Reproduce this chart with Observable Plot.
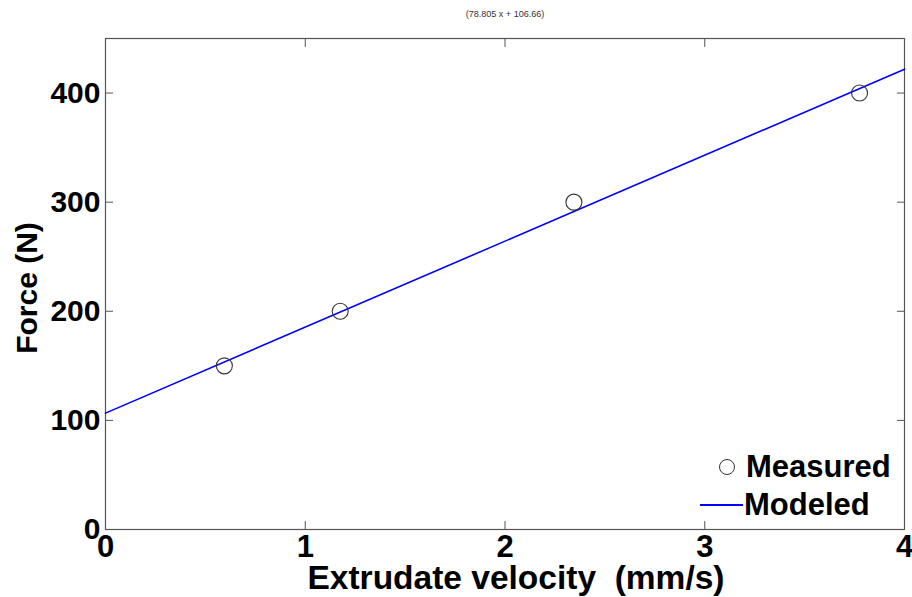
<!DOCTYPE html>
<html>
<head>
<meta charset="utf-8">
<script src="https://cdn.jsdelivr.net/npm/d3@7"></script>
<script src="https://cdn.jsdelivr.net/npm/@observablehq/plot@0.6"></script>
<style>
  html, body { margin: 0; padding: 0; background: #fff; }
  #wrap { position: relative; width: 912px; height: 597px; font-family: "Liberation Sans", Arial, sans-serif; }
  #legend { position: absolute; left: 690px; top: 448px; font-weight: bold; font-size: 31px; color: #000; }
  .row { position: relative; height: 38px; line-height: 38px; }
  .sym { position: absolute; }
  .lbl { position: absolute; white-space: nowrap; }
</style>
</head>
<body>
<div id="wrap"></div>
<script>
// Data
const velocity = [0.595, 1.175, 2.345, 3.775];   // mm/s (measured)
const force = [150, 200, 300, 400];              // N (measured)
const modelVelocity = [0, 4];                    // mm/s (modeled line ends)
const modelForce = [106.66, 421.88];             // N  (78.805 x + 106.66)
const xTicks = [0, 1, 2, 3, 4];
const yTicks = [0, 100, 200, 300, 400];
const titleText = "(78.805 x + 106.66)";
const xLabel = "Extrudate velocity \u00a0(mm/s)";
const yLabel = "Force (N)";
const seriesNames = ["Measured", "Modeled"];

const measured = velocity.map((v, i) => ({v, f: force[i]}));
const modeled = modelVelocity.map((v, i) => ({v, f: modelForce[i]}));

const font = "Liberation Sans, Arial, sans-serif";
const frameColor = "#555";
const intFmt = d3.format("d");

const chart = Plot.plot({
  width: 912,
  height: 597,
  marginLeft: 105,
  marginRight: 8,
  marginTop: 38,
  marginBottom: 68,
  style: {fontFamily: font, background: "#fff", color: "#000", overflow: "visible"},
  x: {domain: [0, 4]},
  y: {domain: [0, 450]},
  marks: [
    Plot.frame({stroke: frameColor, strokeWidth: 1.2}),
    // inward ticks on all four sides
    Plot.axisX({anchor: "bottom", ticks: xTicks, tickSize: -8, tickFormat: () => "", label: null, stroke: frameColor}),
    Plot.axisX({anchor: "top", ticks: xTicks, tickSize: -8, tickFormat: () => "", label: null, stroke: frameColor}),
    Plot.axisY({anchor: "left", ticks: yTicks, tickSize: -8, tickFormat: () => "", label: null, stroke: frameColor}),
    Plot.axisY({anchor: "right", ticks: yTicks, tickSize: -8, tickFormat: () => "", label: null, stroke: frameColor}),
    // tick labels
    Plot.axisX({anchor: "bottom", ticks: xTicks, tickFormat: intFmt, tickSize: 0, tickPadding: 5, label: null, fontSize: 31, fontWeight: "bold", fill: "#000"}),
    Plot.axisY({anchor: "left", ticks: yTicks, tickFormat: intFmt, tickSize: 0, tickPadding: 5, label: null, fontSize: 30, fontWeight: "bold", fill: "#000"}),
    // axis titles
    Plot.text([xLabel], {text: d => d, frameAnchor: "bottom", textAnchor: "middle", lineAnchor: "middle", dx: 11, dy: 49, fontSize: 33.5, fontWeight: "bold", fill: "#000"}),
    Plot.text([yLabel], {text: d => d, frameAnchor: "left", textAnchor: "middle", lineAnchor: "middle", rotate: -90, dx: -78, dy: 4, fontSize: 30, fontWeight: "bold", fill: "#000"}),
    Plot.text([titleText], {text: d => d, frameAnchor: "top", textAnchor: "middle", lineAnchor: "middle", dy: -24, fontSize: 9, fill: "#333"}),
    // data
    Plot.line(modeled, {x: "v", y: "f", stroke: "#0000ff", strokeWidth: 1.6}),
    Plot.dot(measured, {x: "v", y: "f", r: 8, stroke: "#333", strokeWidth: 1.1, fill: "none"})
  ]
});

const wrap = document.getElementById("wrap");
wrap.appendChild(chart);

// Legend (inside the axes, bottom-right)
const legend = document.createElement("div");
legend.id = "legend";
legend.innerHTML = `
  <div class="row"><span class="sym" style="left:29px;top:11px;width:14px;height:14px;border:1.2px solid #333;border-radius:50%;"></span><span class="lbl" style="left:56px;">${seriesNames[0]}</span></div>
  <div class="row"><span class="sym" style="left:10px;top:18px;width:43px;height:2px;background:#0000ff;"></span><span class="lbl" style="left:54px;">${seriesNames[1]}</span></div>`;
wrap.appendChild(legend);
</script>
</body>
</html>
